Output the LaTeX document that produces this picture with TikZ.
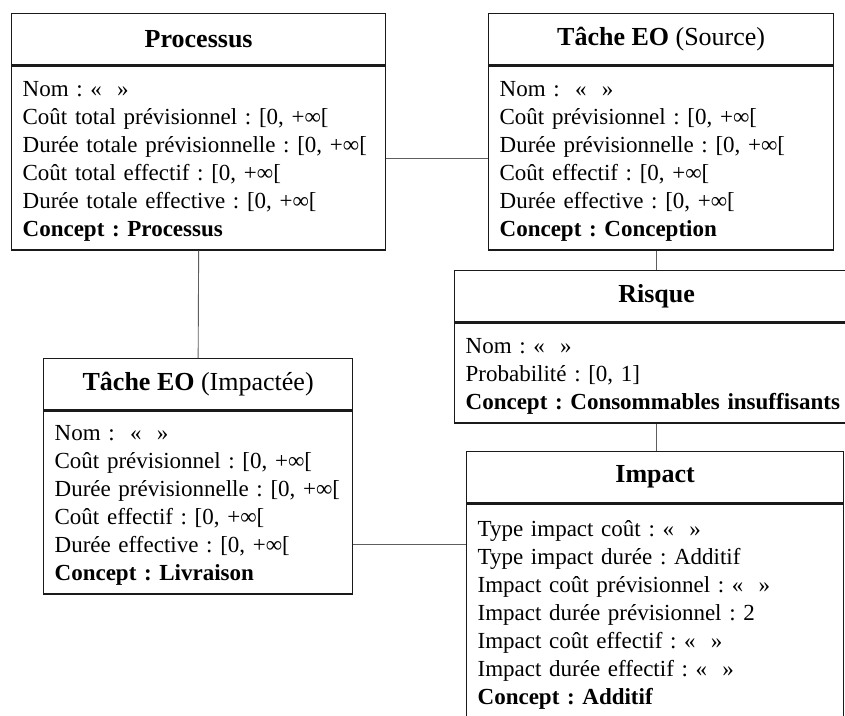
\documentclass[tikz,border=0pt]{standalone}
\usepackage{fontspec}
\setmainfont{Liberation Serif}
\usetikzlibrary{positioning}
\definecolor{boxline}{HTML}{1A1A1A}
\definecolor{linkgrey}{HTML}{5E5E5E}
\newcommand{\headfont}{\fontsize{26}{30}\selectfont}
\newcommand{\attrfont}{\fontsize{23}{28}\selectfont}
\frenchspacing
\tikzset{
  classhead/.style = {draw=boxline, line width=1.3pt, anchor=north west,
                      minimum height=51pt, inner sep=0pt, font=\headfont},
  classbody/.style = {draw=boxline, line width=1.3pt, align=left,
                      inner xsep=11pt, inner ysep=0pt, font=\attrfont,
                      execute at begin node={\rule{0pt}{21pt}}},
  link/.style      = {draw=linkgrey, line width=0.9pt},
}

\begin{document}
\begin{tikzpicture}[x=1pt,y=-1pt]
    \clip (0,0) rectangle (845,715);
    % classes
    \node[classhead,minimum width=374pt] (prochead) at (11,13) {\textbf{Processus}};
    \node[classbody,below=0pt of prochead,text width=352pt,minimum height=184pt] (procbody)
      {Nom : «~~»\\Coût total prévisionnel : [0, +∞[\\Durée totale prévisionnelle : [0, +∞[\\
       Coût total effectif : [0, +∞[\\Durée totale effective : [0, +∞[\\\textbf{Concept : Processus}};
    \node[classhead,minimum width=345pt] (srchead) at (488,13) {\textbf{Tâche EO} (Source)};
    \node[classbody,below=0pt of srchead,text width=323pt,minimum height=184pt] (srcbody)
      {Nom : ~«~~»\\Coût prévisionnel : [0, +∞[\\Durée prévisionnelle : [0, +∞[\\
       Coût effectif : [0, +∞[\\Durée effective : [0, +∞[\\\textbf{Concept : Conception}};
    \node[classhead,minimum width=404pt] (riskhead) at (454,270) {\textbf{Risque}};
    \node[classbody,below=0pt of riskhead,text width=382pt,minimum height=100pt] (riskbody)
      {Nom : «~~»\\Probabilité : [0, 1]\\\textbf{Concept : Consommables insuffisants}};
    \node[classhead,minimum width=309pt] (lowhead) at (43,358) {\textbf{Tâche EO} (Impactée)};
    \node[classbody,below=0pt of lowhead,text width=287pt,minimum height=183pt] (lowbody)
      {Nom : ~«~~»\\Coût prévisionnel : [0, +∞[\\\mbox{Durée prévisionnelle : [0, +∞[}\\
       Coût effectif : [0, +∞[\\Durée effective : [0, +∞[\\\textbf{Concept : Livraison}};
    \node[classhead,minimum width=377pt] (imphead) at (466,451) {\textbf{Impact}};
    \node[classbody,below=0pt of imphead,text width=355pt,minimum height=216pt] (impbody)
      {Type impact coût : «~~»\\Type impact durée : Additif\\Impact coût prévisionnel : «~~»\\
       Impact durée prévisionnel : 2\\Impact coût effectif : «~~»\\Impact durée effectif : «~~»\\
       \textbf{Concept : Additif}};
    % links
    \coordinate (tie) at (0,544);
    \draw[link] (procbody.east) -- (srcbody.west);
    \draw[link] (procbody.south) -- (lowhead.north);
    \draw[link] (riskhead.north |- srcbody.south) -- (riskhead.north);
    \draw[link] (riskbody.south) -- (riskbody.south |- imphead.north);
    \draw[link] (lowbody.east |- tie) -- (impbody.west |- tie);
\end{tikzpicture}
\end{document}
